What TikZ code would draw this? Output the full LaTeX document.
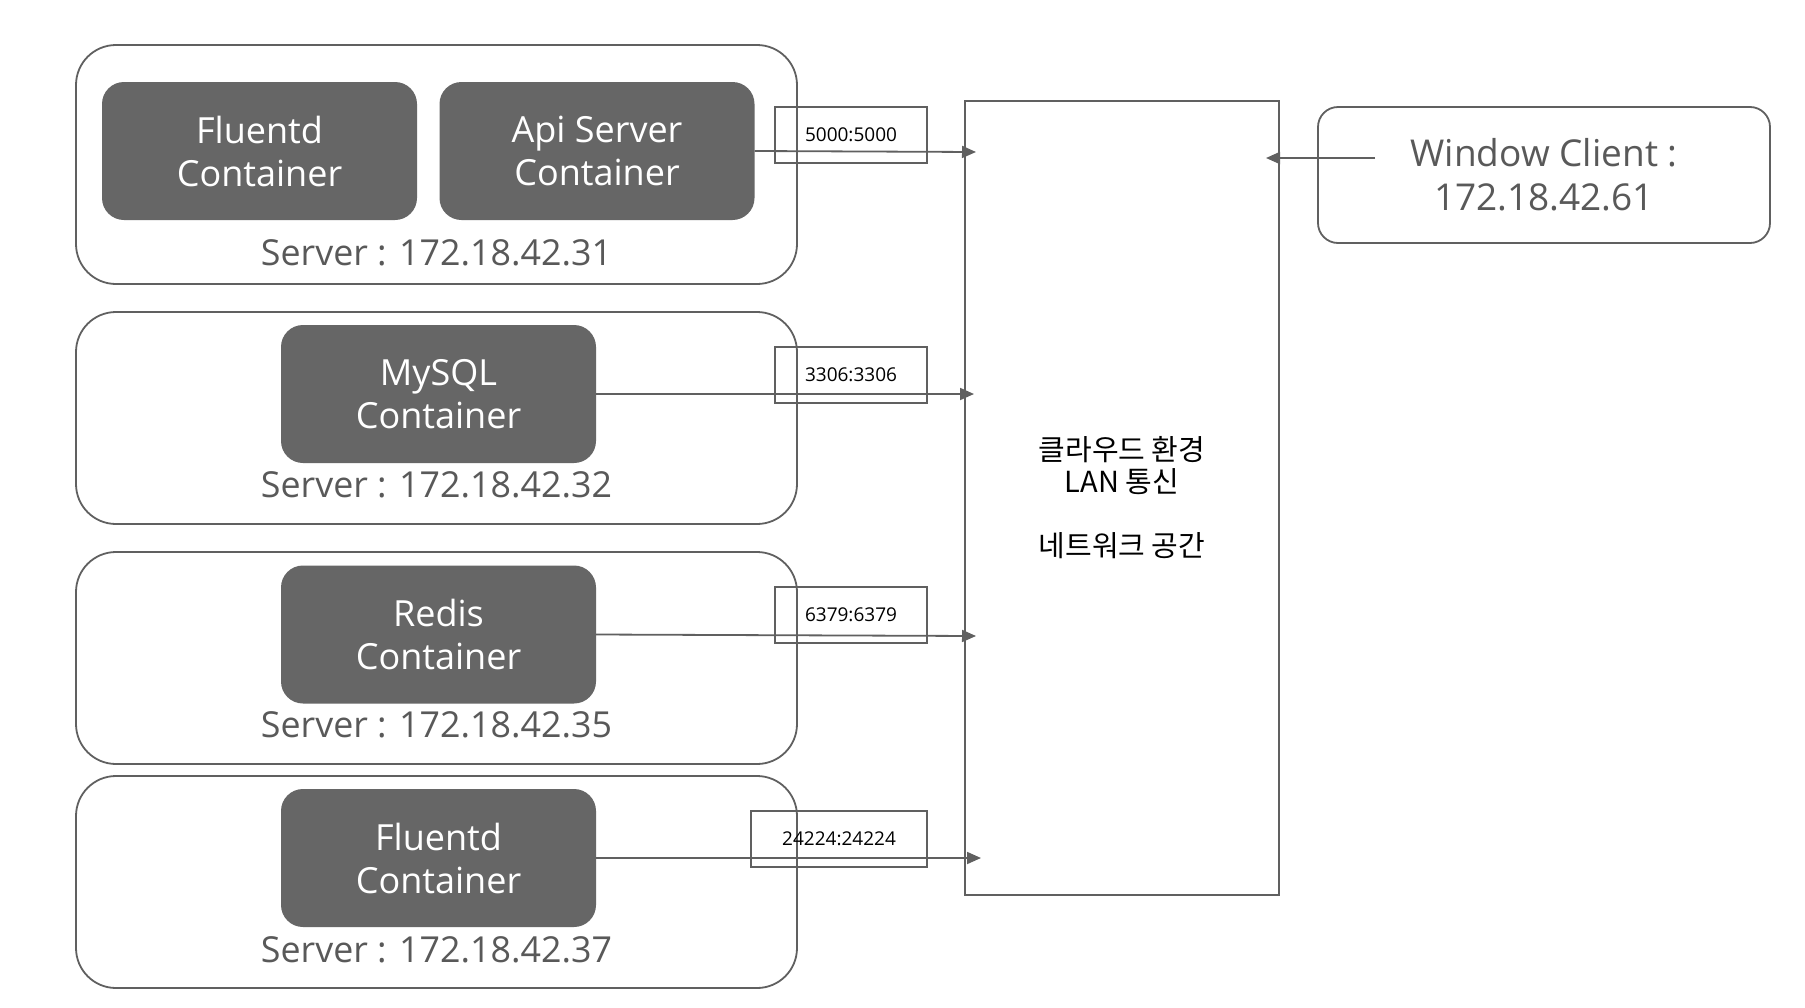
\documentclass[tikz,border=0pt]{standalone}
\usepackage{fontspec}
\setmainfont{Open Sans}
\newfontfamily\kr{Noto Sans CJK KR}
\usetikzlibrary{arrows.meta}
\definecolor{lineg}{RGB}{96,96,96}
\definecolor{fillg}{RGB}{102,102,102}
\definecolor{textg}{RGB}{89,89,89}
\begin{document}
\begin{tikzpicture}[x=1pt,y=-1pt,
  serverbox/.style={draw=lineg, line width=1.8pt, rounded corners=40pt, minimum width=721pt, inner sep=0pt},
  cbox/.style={fill=fillg, rounded corners=22pt, text=white, align=center, inner sep=0pt,
    minimum width=315pt, minimum height=138pt, font=\fontsize{36}{43}\selectfont},
  srvtext/.style={anchor=base, text=textg, inner sep=0pt, font=\fontsize{35.8}{44}\selectfont},
  portbox/.style={draw=lineg, line width=1.5pt, minimum height=56pt, inner sep=0pt,
    font=\fontsize{19}{22}\selectfont, text=black},
  arr/.style={draw=lineg, line width=1.8pt, -{Triangle[length=14pt,width=12pt]}}
]
\useasboundingbox (0,0) rectangle (1805,1007);
\fill[white] (0,0) rectangle (1805,1007);

% server boxes
\node[serverbox, minimum height=239pt] (s1) at (436.5,164.5) {};
\node[serverbox, minimum height=212pt] (s2) at (436.5,418) {};
\node[serverbox, minimum height=212pt] (s3) at (436.5,658) {};
\node[serverbox, minimum height=212pt] (s4) at (436.5,882) {};

% containers
\node[cbox] (fl1) at (259.5,151) {Fluentd\\Container};
\node[cbox] (api) at (597,151) {Api Server\\Container};
\node[cbox] (mysql) at (438.5,394) {MySQL\\Container};
\node[cbox] (redis) at (438.5,634.5) {Redis\\Container};
\node[cbox] (fl2) at (438.5,858) {Fluentd\\Container};

% server labels
\node[srvtext] (l1) at (436.5,265) {Server : 172.18.42.31};
\node[srvtext] (l2) at (436.5,497) {Server : 172.18.42.32};
\node[srvtext] (l3) at (436.5,737) {Server : 172.18.42.35};
\node[srvtext] (l4) at (436.5,962) {Server : 172.18.42.37};

% LAN area
\node[draw=lineg, line width=1.8pt, minimum width=314pt, minimum height=794pt, inner sep=0pt,
  align=center, font=\kr\fontsize{29}{32}\selectfont] (lan) at (1122,498)
  {클라우드 환경\\LAN 통신\\[32pt]네트워크 공간};

% client
\node[draw=lineg, line width=1.8pt, rounded corners=20pt, minimum width=452pt, minimum height=136pt,
  inner sep=0pt, align=center, text=textg, font=\fontsize{37}{44}\selectfont] (client) at (1544,175)
  {Window Client :\\172.18.42.61};

% port boxes
\node[portbox, minimum width=152pt] (p1) at (851,135) {5000:5000};
\node[portbox, minimum width=152pt] (p2) at (851,375) {3306:3306};
\node[portbox, minimum width=152pt] (p3) at (851,615) {6379:6379};
\node[portbox, minimum width=176pt] (p4) at (839,839) {24224:24224};

% arrow ends
\coordinate (t1) at (976,152);
\coordinate (t2) at (974,394);
\coordinate (t3) at (976,636);
\coordinate (t4) at (981,858);
\coordinate (cs) at (1375,158);
\coordinate (ct) at (1266,158);

\draw[arr] (api.east) -- (t1);
\draw[arr] (mysql.east) -- (t2);
\draw[arr] (redis.east) -- (t3);
\draw[arr] (fl2.east) -- (t4);
\draw[arr] (cs) -- (ct);
\end{tikzpicture}
\end{document}
